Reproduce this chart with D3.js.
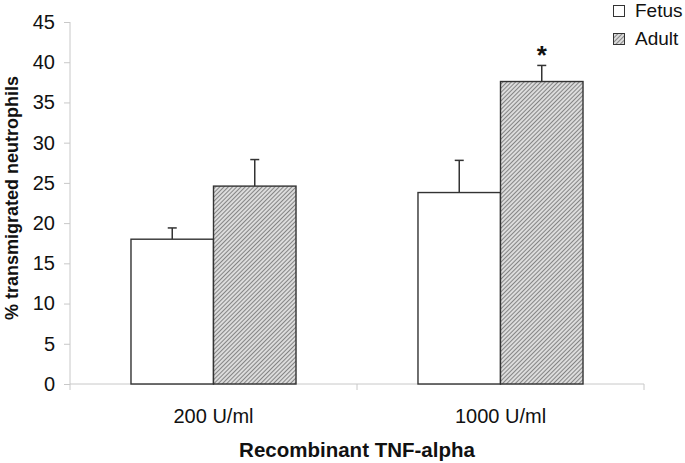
<!DOCTYPE html>
<html>
<head>
<meta charset="utf-8">
<script src="https://cdn.jsdelivr.net/npm/d3@7"></script>
<style>
  body { margin: 0; background: #fff; }
  svg { font-family: "Liberation Sans", Arial, sans-serif; }
  .axis path, .axis line { stroke: #c8c8c8; }
  .axis text { font-size: 20px; fill: #111; }
</style>
</head>
<body>
<div class="chart"></div>
<script>
var categories = ["200 U/ml", "1000 U/ml"];
var seriesNames = ["Fetus", "Adult"];
var fetusValues = [18.0, 23.8];
var fetusErrors = [1.4, 4.0];
var adultValues = [24.6, 37.6];
var adultErrors = [3.3, 2.0];
var yTicks = [0, 5, 10, 15, 20, 25, 30, 35, 40, 45];

var margin = { top: 22, right: 41, bottom: 79, left: 70 };
var width = 685 - margin.left - margin.right;
var height = 463 - margin.top - margin.bottom;

var svg = d3.select(".chart").append("svg")
    .attr("width", 685)
    .attr("height", 463);

var defs = svg.append("defs");
var pat = defs.append("pattern")
    .attr("id", "hatch")
    .attr("patternUnits", "userSpaceOnUse")
    .attr("width", 3)
    .attr("height", 3)
    .attr("patternTransform", "rotate(45)");
pat.append("rect").attr("width", 3).attr("height", 3).attr("fill", "#dcdcdc");
pat.append("line")
    .attr("x1", 0).attr("y1", 0).attr("x2", 0).attr("y2", 3)
    .attr("stroke", "#4a4a4a").attr("stroke-width", 1.2);

var g = svg.append("g")
    .attr("transform", "translate(" + margin.left + "," + margin.top + ")");

var x0 = d3.scaleBand().domain(categories).range([0, width]).paddingInner(0.425).paddingOuter(0.2125);
var x1 = d3.scaleBand().domain(seriesNames).range([0, x0.bandwidth()]);
var y = d3.scaleLinear().domain([0, 45]).range([height, 0]);

var fills = { Fetus: "#fff", Adult: "url(#hatch)" };

// y axis
g.append("g")
    .attr("class", "axis")
    .call(d3.axisLeft(y).tickValues(yTicks).tickSize(6).tickPadding(9))
    .call(function(s) { s.select(".domain").attr("d", "M0,0V" + height); });

// x axis, ticks sit between the categories
var xa = g.append("g")
    .attr("class", "axis")
    .attr("transform", "translate(0," + height + ")");
xa.append("line").attr("x1", 0).attr("x2", width).attr("stroke", "#c8c8c8");
[0, 1, 2].forEach(function(i) {
  var xx = i * width / 2;
  xa.append("line").attr("x1", xx).attr("x2", xx).attr("y1", 0).attr("y2", 6).attr("stroke", "#c8c8c8");
});
xa.selectAll(".lab")
    .data(categories)
  .enter().append("text")
    .attr("class", "lab")
    .attr("x", function(d) { return x0(d) + x0.bandwidth() / 2; })
    .attr("y", 39)
    .attr("text-anchor", "middle")
    .attr("font-size", 20.5)
    .attr("fill", "#111")
    .text(function(d) { return d; });

var rows = [];
categories.forEach(function(c, i) {
  rows.push({ cat: c, s: "Fetus", v: fetusValues[i], e: fetusErrors[i] });
  rows.push({ cat: c, s: "Adult", v: adultValues[i], e: adultErrors[i] });
});

// error bars (upper only)
var eb = g.selectAll(".err").data(rows).enter().append("g").attr("class", "err");
eb.append("line")
    .attr("x1", function(d) { return x0(d.cat) + x1(d.s) + x1.bandwidth() / 2; })
    .attr("x2", function(d) { return x0(d.cat) + x1(d.s) + x1.bandwidth() / 2; })
    .attr("y1", function(d) { return y(d.v); })
    .attr("y2", function(d) { return y(d.v + d.e); })
    .attr("stroke", "#333").attr("stroke-width", 1.5);
eb.append("line")
    .attr("x1", function(d) { return x0(d.cat) + x1(d.s) + x1.bandwidth() / 2 - 4.5; })
    .attr("x2", function(d) { return x0(d.cat) + x1(d.s) + x1.bandwidth() / 2 + 4.5; })
    .attr("y1", function(d) { return y(d.v + d.e); })
    .attr("y2", function(d) { return y(d.v + d.e); })
    .attr("stroke", "#333").attr("stroke-width", 1.5);

g.selectAll(".bar")
    .data(rows)
  .enter().append("rect")
    .attr("class", "bar")
    .attr("x", function(d) { return x0(d.cat) + x1(d.s); })
    .attr("y", function(d) { return y(d.v); })
    .attr("width", x1.bandwidth())
    .attr("height", function(d) { return height - y(d.v); })
    .attr("fill", function(d) { return fills[d.s]; })
    .attr("stroke", "#333")
    .attr("stroke-width", 1.4);

// significance star
g.append("text")
    .attr("x", x0("1000 U/ml") + x1("Adult") + x1.bandwidth() / 2)
    .attr("y", y(adultValues[1] + adultErrors[1]) - 1)
    .attr("text-anchor", "middle")
    .attr("font-size", 26)
    .attr("font-weight", "bold")
    .attr("fill", "#111")
    .text("*");

// axis titles
svg.append("text")
    .attr("x", margin.left + width / 2)
    .attr("y", 457)
    .attr("text-anchor", "middle")
    .attr("font-size", 20.5)
    .attr("font-weight", "bold")
    .attr("fill", "#111")
    .text("Recombinant TNF-alpha");

svg.append("text")
    .attr("transform", "translate(18,198) rotate(-90)")
    .attr("text-anchor", "middle")
    .attr("font-size", 18)
    .attr("font-weight", "bold")
    .attr("fill", "#111")
    .text("% transmigrated neutrophils");

// legend
var leg = svg.append("g").attr("transform", "translate(613,4)");
seriesNames.forEach(function(s, i) {
  leg.append("rect")
      .attr("x", 0.5).attr("y", i * 28 + 1.5)
      .attr("width", 11).attr("height", 11)
      .attr("fill", fills[s]).attr("stroke", "#333").attr("stroke-width", 1);
  leg.append("text")
      .attr("x", 22).attr("y", i * 28 + 13)
      .attr("font-size", 19)
      .attr("fill", "#111")
      .text(s);
});
</script>
</body>
</html>
